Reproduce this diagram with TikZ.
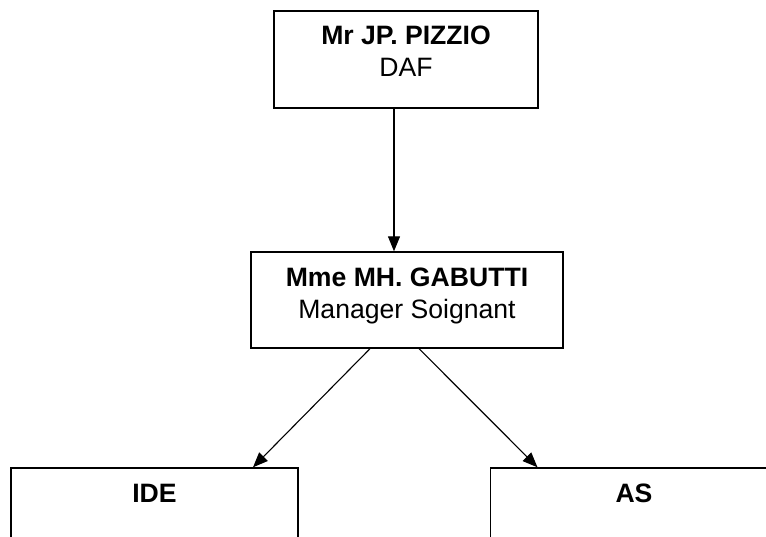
\documentclass[tikz,border=0pt]{standalone}
\usepackage{fontspec}
\setmainfont{Liberation Sans}
\usetikzlibrary{arrows.meta,positioning}

\begin{document}
\begin{tikzpicture}[x=0.5pt,y=-0.5pt,
    orgbox/.style={draw,line width=0.7pt,inner sep=0pt},
    orgtext/.style={font=\fontsize{13.3pt}{16pt}\selectfont,align=center,inner sep=0pt},
    orgarrow/.style={-{Triangle[length=7.5pt,width=6pt]},line width=0.55pt}]
  \useasboundingbox (0,0) rectangle (766,536);

  % direction
  \node[orgbox,minimum width=132pt,minimum height=48.5pt] (daf) at (406,59.5) {};
  \node[orgtext,below=7.8pt of daf.north] (dafname) {\textbf{Mr JP. PIZZIO}\\DAF};

  \node[orgbox,minimum width=156pt,minimum height=48pt] (manager) at (407,300) {};
  \node[orgtext,below=8pt of manager.north] (managername) {\textbf{Mme MH. GABUTTI}\\Manager Soignant};

  % equipes soignantes
  \foreach \name/\txt/\x in {ide/IDE/154.5, as/AS/634}
  {
    \node[orgbox,minimum width=143.5pt,minimum height=48.5pt] (\name) at (\x,516.5) {};
    \node[orgtext,below=8.3pt of \name.north] (\name text) {\textbf{\txt}};
  }

  \draw[orgarrow] ([xshift=-6pt]daf.south) -- ([xshift=-6pt]daf.south |- manager.north);
  \draw[orgarrow] ([xshift=-18.5pt]manager.south) -- ([xshift=49.25pt]ide.north);
  \draw[orgarrow] ([xshift=6pt]manager.south) -- ([xshift=-48.25pt]as.north);
\end{tikzpicture}
\end{document}
